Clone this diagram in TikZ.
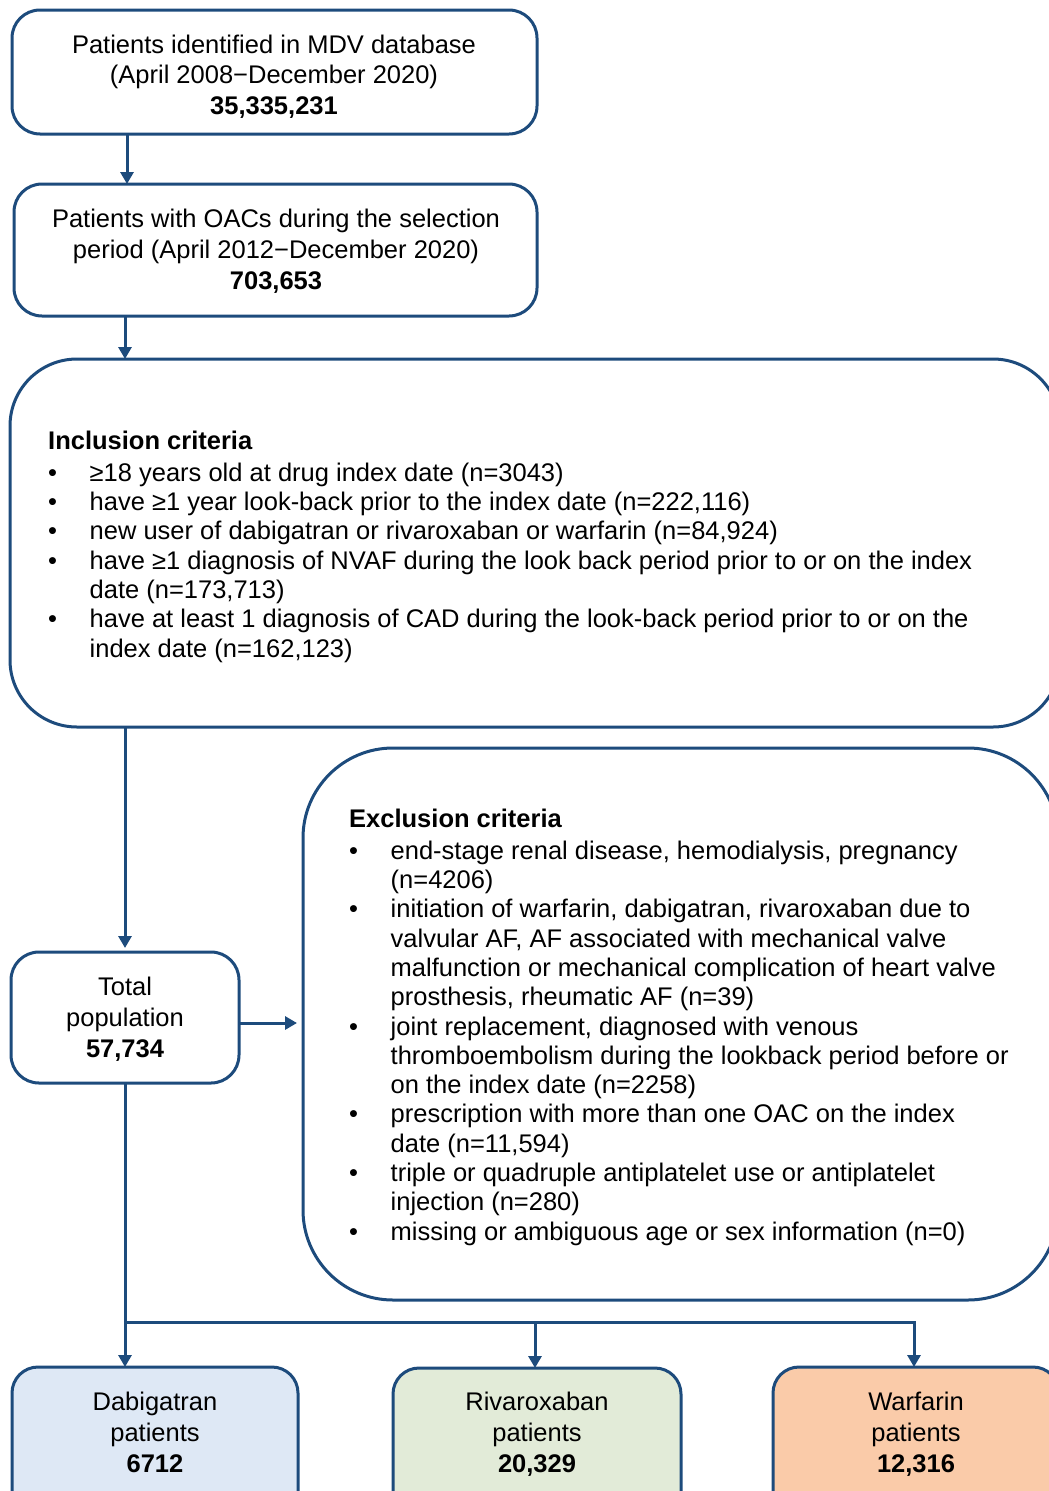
\documentclass[tikz,border=0pt]{standalone}
\usepackage{fontspec}
\setmainfont{Liberation Sans}
\usetikzlibrary{arrows.meta}
\definecolor{navy}{HTML}{1D4B7C}
\definecolor{dabfill}{HTML}{DEE8F5}
\definecolor{rivfill}{HTML}{E2EBD8}
\definecolor{warfill}{HTML}{FACBA9}
\newcommand\bitem{\makebox[41.5pt][l]{•}}
\newcommand\cont{\hspace*{41.5pt}}
\begin{document}
\begin{tikzpicture}[x=1pt,y=-1pt,
  box/.style={draw=navy, line width=3pt, rectangle, inner sep=0pt, outer sep=0pt},
  txt/.style={inner sep=0pt, align=center, anchor=north, font=\fontsize{25.5}{30.5}\selectfont},
  txtb/.style={inner sep=0pt, align=center, anchor=north, font=\fontsize{25.5}{31}\selectfont},
  lst/.style={inner sep=0pt, align=left, anchor=north west, font=\fontsize{25.5}{29.3}\selectfont},
  conn/.style={draw=navy, line width=3pt, -{Triangle[length=12pt,width=13pt]}},
  wire/.style={draw=navy, line width=3pt},
]
\useasboundingbox (0,0) rectangle (1049,1491);
\clip (0,0) rectangle (1049,1491);

% column coordinates
\coordinate (colA) at (127,0);
\coordinate (colB) at (125,0);
\coordinate (colR) at (535,0);
\coordinate (colW) at (914,0);
\coordinate (jn) at (0,1322);

% boxes
\node[box, rounded corners=28pt, minimum width=525pt, minimum height=124pt] (b1) at (274.5,72) {};
\node[box, rounded corners=28pt, minimum width=523pt, minimum height=132pt] (b2) at (275.5,250) {};
\node[box, rounded corners=67pt, minimum width=1050pt, minimum height=368pt] (incl) at (535,543) {};
\node[box, rounded corners=90pt, minimum width=755pt, minimum height=552pt] (excl) at (680.5,1024) {};
\node[box, rounded corners=28pt, minimum width=228pt, minimum height=131pt] (tot) at (125,1017.5) {};
\node[box, fill=dabfill, rounded corners=26pt, minimum width=286pt, minimum height=163pt] (dab) at (155,1448.5) {};
\node[box, fill=rivfill, rounded corners=26pt, minimum width=288pt, minimum height=163pt] (riv) at (537,1449.5) {};
\node[box, fill=warfill, rounded corners=26pt, minimum width=286pt, minimum height=163pt] (war) at (916,1448.5) {};

% texts
\node[txt] (t1) at (274,31.5) {\strut Patients identified in MDV database\\(April 2008−December 2020)\\\textbf{35,335,231}};
\node[txtb] (t2) at (276,206) {\strut Patients with OACs during the selection\\period (April 2012−December 2020)\\\textbf{703,653}};
\node[txtb] (ttot) at (125,973.3) {\strut Total\\population\\\textbf{57,734}};
\node[txtb] (tdab) at (155,1388.3) {\strut Dabigatran\\patients\\\textbf{6712}};
\node[txtb] (triv) at (537,1388.3) {\strut Rivaroxaban\\patients\\\textbf{20,329}};
\node[txtb] (twar) at (916,1388.3) {\strut Warfarin\\patients\\\textbf{12,316}};

\node[lst] (tincl) at (48,428.5) {\strut\textbf{Inclusion criteria}\\[2.7pt]
\bitem ≥18 years old at drug index date (n=3043)\\
\bitem have ≥1 year look-back prior to the index date (n=222,116)\\
\bitem new user of dabigatran or rivaroxaban or warfarin (n=84,924)\\
\bitem have ≥1 diagnosis of NVAF during the look back period prior to or on the index\\
\cont date (n=173,713)\\
\bitem have at least 1 diagnosis of CAD during the look-back period prior to or on the\\
\cont index date (n=162,123)};

\node[lst] (texcl) at (349,806.5) {\strut\textbf{Exclusion criteria}\\[2.7pt]
\bitem end-stage renal disease, hemodialysis, pregnancy\\
\cont (n=4206)\\
\bitem initiation of warfarin, dabigatran, rivaroxaban due to\\
\cont valvular AF, AF associated with mechanical valve\\
\cont malfunction or mechanical complication of heart valve\\
\cont prosthesis, rheumatic AF (n=39)\\
\bitem joint replacement, diagnosed with venous\\
\cont thromboembolism during the lookback period before or\\
\cont on the index date (n=2258)\\
\bitem prescription with more than one OAC on the index\\
\cont date (n=11,594)\\
\bitem triple or quadruple antiplatelet use or antiplatelet\\
\cont injection (n=280)\\
\bitem missing or ambiguous age or sex information (n=0)};

% connectors
\draw[conn] (b1.south -| colA) -- (b2.north -| colA);
\draw[conn] (b2.south -| colB) -- (incl.north -| colB);
\draw[conn, shorten >=4pt] (incl.south -| colB) -- (tot.north);
\draw[conn, shorten >=6pt] ([yshift=-5.5pt]tot.east) -- ([yshift=-5.5pt]excl.west |- tot.east);
\draw[conn] (tot.south) -- (dab.north -| tot.south);
\draw[wire] (tot.south |- jn) -- (jn -| colR);
\draw[conn] (jn -| colR) -- (riv.north -| colR);
\draw[conn] (jn -| colR) -- (jn -| colW) -- (war.north -| colW);
\end{tikzpicture}
\end{document}
